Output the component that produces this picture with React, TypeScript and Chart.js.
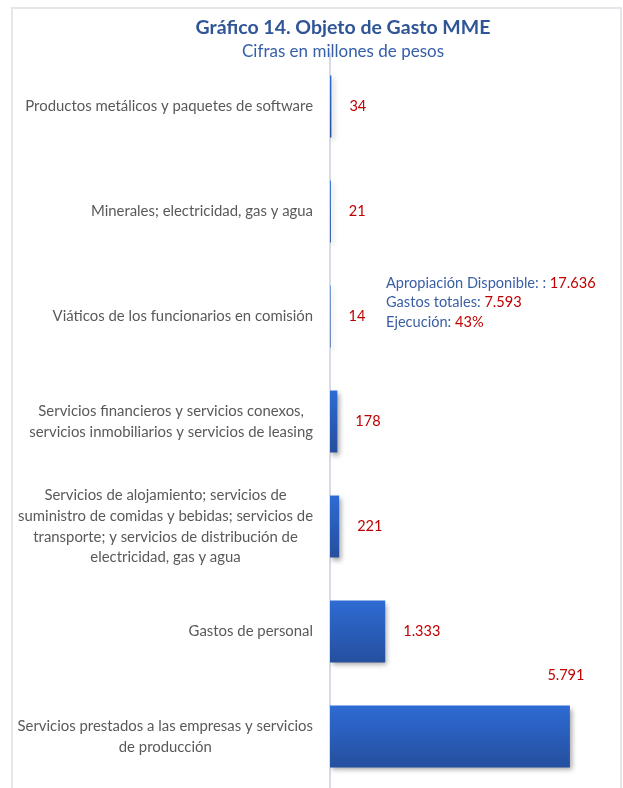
import React, { useEffect, useRef } from "react";
import { Chart, registerables } from "chart.js";

Chart.register(...registerables);

const titleText = "Gráfico 14. Objeto de Gasto MME";
const subtitleText = "Cifras en millones de pesos";

const categories: string[][] = [
  ["Productos metálicos y paquetes de software"],
  ["Minerales; electricidad, gas y agua"],
  ["Viáticos de los funcionarios en comisión"],
  ["Servicios financieros y servicios conexos,", "servicios inmobiliarios y servicios de leasing"],
  [
    "Servicios de alojamiento; servicios de",
    "suministro de comidas y bebidas; servicios de",
    "transporte; y servicios de distribución de",
    "electricidad, gas y agua",
  ],
  ["Gastos de personal"],
  ["Servicios prestados a las empresas y servicios", "de producción"],
];

const values: number[] = [34, 21, 14, 178, 221, 1333, 5791];

const summaryLabels: string[] = ["Apropiación Disponible: : ", "Gastos totales: ", "Ejecución: "];
const summaryValues: string[] = ["17.636", "7.593", "43%"];

const axisMax = 7000;

const FONT = 'Lato, "Open Sans", sans-serif';
const BLUE = "#2f5597";
const RED = "#c00000";
const GRAY = "#595959";

function fmt(n: number): string {
  return String(n).replace(/\B(?=(\d{3})+(?!\d))/g, ".");
}

const textPlugin = {
  id: "customText",
  beforeDatasetsDraw(chart: any) {
    const ctx = chart.ctx;
    ctx.save();
    ctx.shadowColor = "rgba(0,0,0,0.35)";
    ctx.shadowBlur = 5;
    ctx.shadowOffsetX = 2;
    ctx.shadowOffsetY = 3;
  },
  afterDatasetsDraw(chart: any) {
    chart.ctx.restore();
  },
  afterDraw(chart: any) {
    const ctx = chart.ctx;
    const area = chart.chartArea;
    const yScale = chart.scales.y;
    ctx.save();
    // Title
    ctx.textAlign = "center";
    ctx.textBaseline = "middle";
    ctx.fillStyle = BLUE;
    ctx.font = `bold 19.5px ${FONT}`;
    ctx.fillText(titleText, area.left + 13, 19);
    ctx.font = `17px ${FONT}`;
    ctx.fillStyle = "#3560a8";
    ctx.fillText(subtitleText, area.left + 13, 43);

    // Category labels
    ctx.font = `14.9px ${FONT}`;
    ctx.fillStyle = GRAY;
    const lh = 20.7;
    categories.forEach((lines, i) => {
      const widths = lines.map((l) => ctx.measureText(l).width);
      const blockW = Math.max(...widths);
      const right = area.left - 17;
      const cx = right - blockW / 2;
      const cy = yScale.getPixelForValue(i);
      const startY = cy - ((lines.length - 1) * lh) / 2;
      lines.forEach((l, j) => {
        ctx.fillText(l, cx, startY + j * lh);
      });
    });

    // Value labels
    const meta = chart.getDatasetMeta(0);
    ctx.font = `14.5px ${FONT}`;
    ctx.fillStyle = RED;
    meta.data.forEach((el: any, i: number) => {
      const txt = fmt(values[i]);
      const w = ctx.measureText(txt).width;
      const x = el.x + 18;
      if (x + w > area.right) {
        ctx.textAlign = "center";
        ctx.fillText(txt, el.x - 4, el.y - el.height / 2 - 30);
      } else {
        ctx.textAlign = "left";
        ctx.fillText(txt, x, el.y);
      }
    });

    // Summary annotation
    ctx.font = `14.6px ${FONT}`;
    ctx.textAlign = "left";
    const ay = yScale.getPixelForValue(2);
    const offsets = [-33, -14, 5.5];
    summaryLabels.forEach((lab, i) => {
      const x0 = area.left + 56;
      const yy = ay + offsets[i];
      ctx.fillStyle = "#3a5fa5";
      ctx.fillText(lab, x0, yy);
      const w = ctx.measureText(lab).width;
      ctx.fillStyle = RED;
      ctx.fillText(summaryValues[i], x0 + w, yy);
    });
    ctx.restore();
  },
};

export default function App() {
  const ref = useRef<HTMLCanvasElement | null>(null);
  useEffect(() => {
    if (!ref.current) return;
    const chart = new Chart(ref.current, {
      type: "bar",
      data: {
        labels: categories.map((c) => c.join(" ")),
        datasets: [
          {
            data: values,
            backgroundColor: (c: any) => {
              const ch = c.chart;
              const { ctx, chartArea, scales } = ch;
              if (!chartArea || !scales.y) return "#2a5fc0";
              const yc = scales.y.getPixelForValue(c.dataIndex);
              const half = 31;
              const g = ctx.createLinearGradient(0, yc - half, 0, yc + half);
              g.addColorStop(0, "#2e6bd4");
              g.addColorStop(1, "#254f9e");
              return g;
            },
            borderWidth: 0,
            barPercentage: 0.59,
            categoryPercentage: 1,
          },
        ],
      },
      options: {
        indexAxis: "y",
        responsive: false,
        animation: false,
        layout: { padding: { top: 45, bottom: 10, left: 0, right: 0 } },
        plugins: {
          legend: { display: false },
          title: { display: false },
          tooltip: { enabled: false },
        },
        scales: {
          x: { type: "linear", display: false, min: 0, max: axisMax },
          y: {
            type: "category",
            display: true,
            grid: { display: false },
            border: { display: true, color: "#d6dce5", width: 2 },
            ticks: { display: false },
            afterFit: (s: any) => {
              s.width = 317;
            },
          },
        },
      },
      plugins: [textPlugin],
    });
    return () => chart.destroy();
  }, []);
  return (
    <div
      style={{
        position: "fixed",
        left: 11,
        top: 7,
        width: 611,
        height: 800,
        border: "2px solid #e3e6ea",
        borderBottom: "none",
        boxSizing: "border-box",
        background: "#fff",
      }}
    >
      <canvas ref={ref} width={607} height={790} style={{ display: "block" }} />
    </div>
  );
}
